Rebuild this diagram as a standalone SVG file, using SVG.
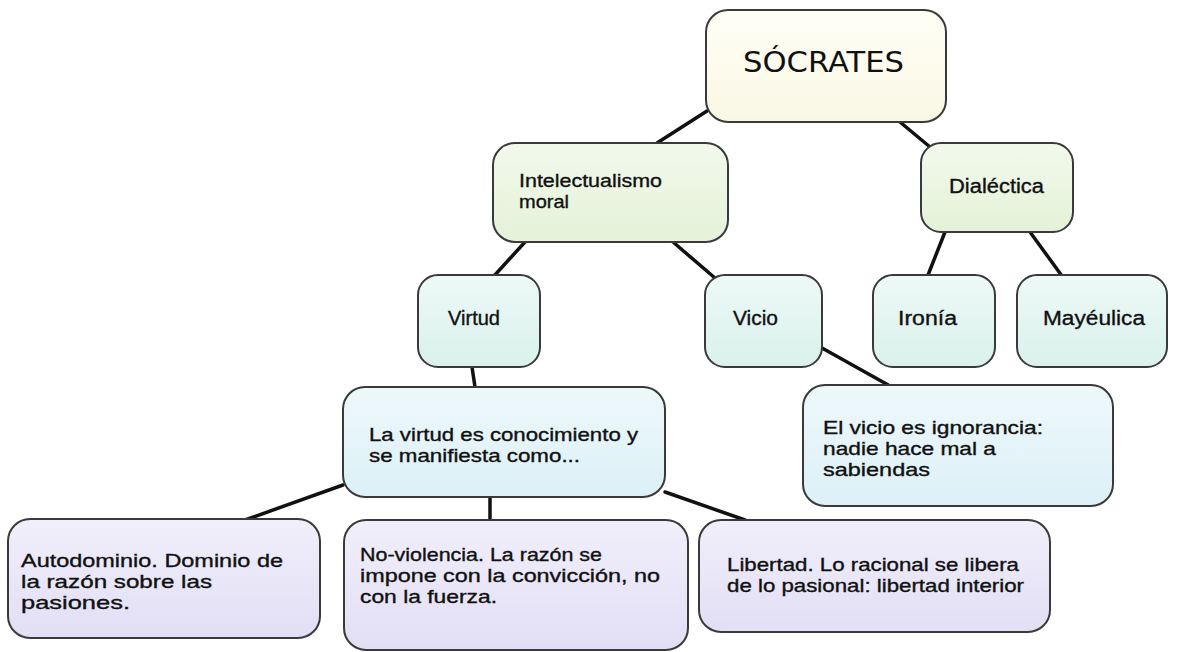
<svg xmlns="http://www.w3.org/2000/svg" width="1180" height="652" viewBox="0 0 1180 652">
<style>
.box{stroke:#3a3a3a;stroke-width:2}
.t{font-family:"Liberation Sans",Arial,sans-serif;font-size:18.5px;fill:#111;stroke:#111;stroke-width:0.35}
.s{font-family:"Liberation Sans",Arial,sans-serif;font-size:20px;fill:#111;stroke:#111;stroke-width:0.35}
.title{font-family:"DejaVu Sans",Verdana,sans-serif;font-size:28px;fill:#111}
.con line{stroke:#111;stroke-width:3.5;stroke-linecap:round}
</style>
<defs>
<linearGradient id="gY" x1="0" y1="0" x2="0" y2="1"><stop offset="0" stop-color="#fffff6"/><stop offset="1" stop-color="#f9f7e4"/></linearGradient>
<linearGradient id="gG" x1="0" y1="0" x2="0" y2="1"><stop offset="0" stop-color="#f2f9ec"/><stop offset="1" stop-color="#e4f2d8"/></linearGradient>
<linearGradient id="gT" x1="0" y1="0" x2="0" y2="1"><stop offset="0" stop-color="#eef9f6"/><stop offset="1" stop-color="#d9f1ec"/></linearGradient>
<linearGradient id="gB" x1="0" y1="0" x2="0" y2="1"><stop offset="0" stop-color="#eef8fb"/><stop offset="1" stop-color="#dcf0f7"/></linearGradient>
<linearGradient id="gL" x1="0" y1="0" x2="0" y2="1"><stop offset="0" stop-color="#f1effb"/><stop offset="1" stop-color="#e2def5"/></linearGradient>
</defs>
<rect width="1180" height="652" fill="#ffffff"/>
<g id="connectors" class="con">
<line x1="707" y1="111" x2="657" y2="143"/>
<line x1="900" y1="122" x2="930" y2="147"/>
<line x1="525" y1="242" x2="494" y2="276"/>
<line x1="673" y1="242" x2="715" y2="278"/>
<line x1="945" y1="232" x2="928" y2="275"/>
<line x1="1030" y1="232" x2="1062" y2="276"/>
<line x1="472" y1="367" x2="475" y2="387"/>
<line x1="822" y1="348" x2="890" y2="386"/>
<line x1="343" y1="485" x2="245" y2="520"/>
<line x1="490" y1="497" x2="490" y2="520"/>
<line x1="665" y1="492" x2="745" y2="520"/>
</g>
<g id="socrates"><rect class="box" x="706" y="10" width="240" height="112" rx="22" fill="url(#gY)"/><text class="title" x="743" y="72" textLength="161" lengthAdjust="spacingAndGlyphs">SÓCRATES</text></g>
<g id="intelectualismo"><rect class="box" x="493" y="143" width="235" height="99" rx="22" fill="url(#gG)"/><text class="t" x="519" y="187" textLength="143" lengthAdjust="spacingAndGlyphs">Intelectualismo</text><text class="t" x="519" y="208" textLength="50" lengthAdjust="spacingAndGlyphs">moral</text></g>
<g id="dialectica"><rect class="box" x="921" y="143" width="152" height="89" rx="20" fill="url(#gG)"/><text class="s" x="949" y="193" textLength="95" lengthAdjust="spacingAndGlyphs">Dialéctica</text></g>
<g id="virtud"><rect class="box" x="418" y="275" width="122" height="92" rx="20" fill="url(#gT)"/><text class="s" x="448" y="325" textLength="52" lengthAdjust="spacingAndGlyphs">Virtud</text></g>
<g id="vicio"><rect class="box" x="705" y="275" width="117" height="92" rx="20" fill="url(#gT)"/><text class="s" x="733" y="325" textLength="45" lengthAdjust="spacingAndGlyphs">Vicio</text></g>
<g id="ironia"><rect class="box" x="873" y="275" width="122" height="92" rx="20" fill="url(#gT)"/><text class="s" x="898" y="325" textLength="59" lengthAdjust="spacingAndGlyphs">Ironía</text></g>
<g id="mayeutica"><rect class="box" x="1017" y="275" width="150" height="92" rx="20" fill="url(#gT)"/><text class="s" x="1043" y="325" textLength="102" lengthAdjust="spacingAndGlyphs">Mayéulica</text></g>
<g id="lavirtud"><rect class="box" x="343" y="387" width="322" height="110" rx="22" fill="url(#gB)"/><text class="t" x="369" y="441" textLength="269" lengthAdjust="spacingAndGlyphs">La virtud es conocimiento y</text><text class="t" x="369" y="462" textLength="211" lengthAdjust="spacingAndGlyphs">se manifiesta como...</text></g>
<g id="elvicio"><rect class="box" x="803" y="385" width="310" height="121" rx="22" fill="url(#gB)"/><text class="t" x="823" y="434" textLength="220" lengthAdjust="spacingAndGlyphs">El vicio es ignorancia:</text><text class="t" x="823" y="455" textLength="173" lengthAdjust="spacingAndGlyphs">nadie hace mal a</text><text class="t" x="823" y="476" textLength="107" lengthAdjust="spacingAndGlyphs">sabiendas</text></g>
<g id="autodominio"><rect class="box" x="8" y="519" width="312" height="119" rx="22" fill="url(#gL)"/><text class="t" x="21" y="567" textLength="262" lengthAdjust="spacingAndGlyphs">Autodominio. Dominio de</text><text class="t" x="21" y="588" textLength="191" lengthAdjust="spacingAndGlyphs">la razón sobre las</text><text class="t" x="21" y="609" textLength="109" lengthAdjust="spacingAndGlyphs">pasiones.</text></g>
<g id="noviolencia"><rect class="box" x="344" y="520" width="344" height="130" rx="22" fill="url(#gL)"/><text class="t" x="360" y="561" textLength="242" lengthAdjust="spacingAndGlyphs">No-violencia. La razón se</text><text class="t" x="360" y="582" textLength="300" lengthAdjust="spacingAndGlyphs">impone con la convicción, no</text><text class="t" x="360" y="603" textLength="137" lengthAdjust="spacingAndGlyphs">con la fuerza.</text></g>
<g id="libertad"><rect class="box" x="699" y="520" width="351" height="112" rx="22" fill="url(#gL)"/><text class="t" x="727" y="571" textLength="292" lengthAdjust="spacingAndGlyphs">Libertad. Lo racional se libera</text><text class="t" x="727" y="592" textLength="297" lengthAdjust="spacingAndGlyphs">de lo pasional: libertad interior</text></g>
</svg>
